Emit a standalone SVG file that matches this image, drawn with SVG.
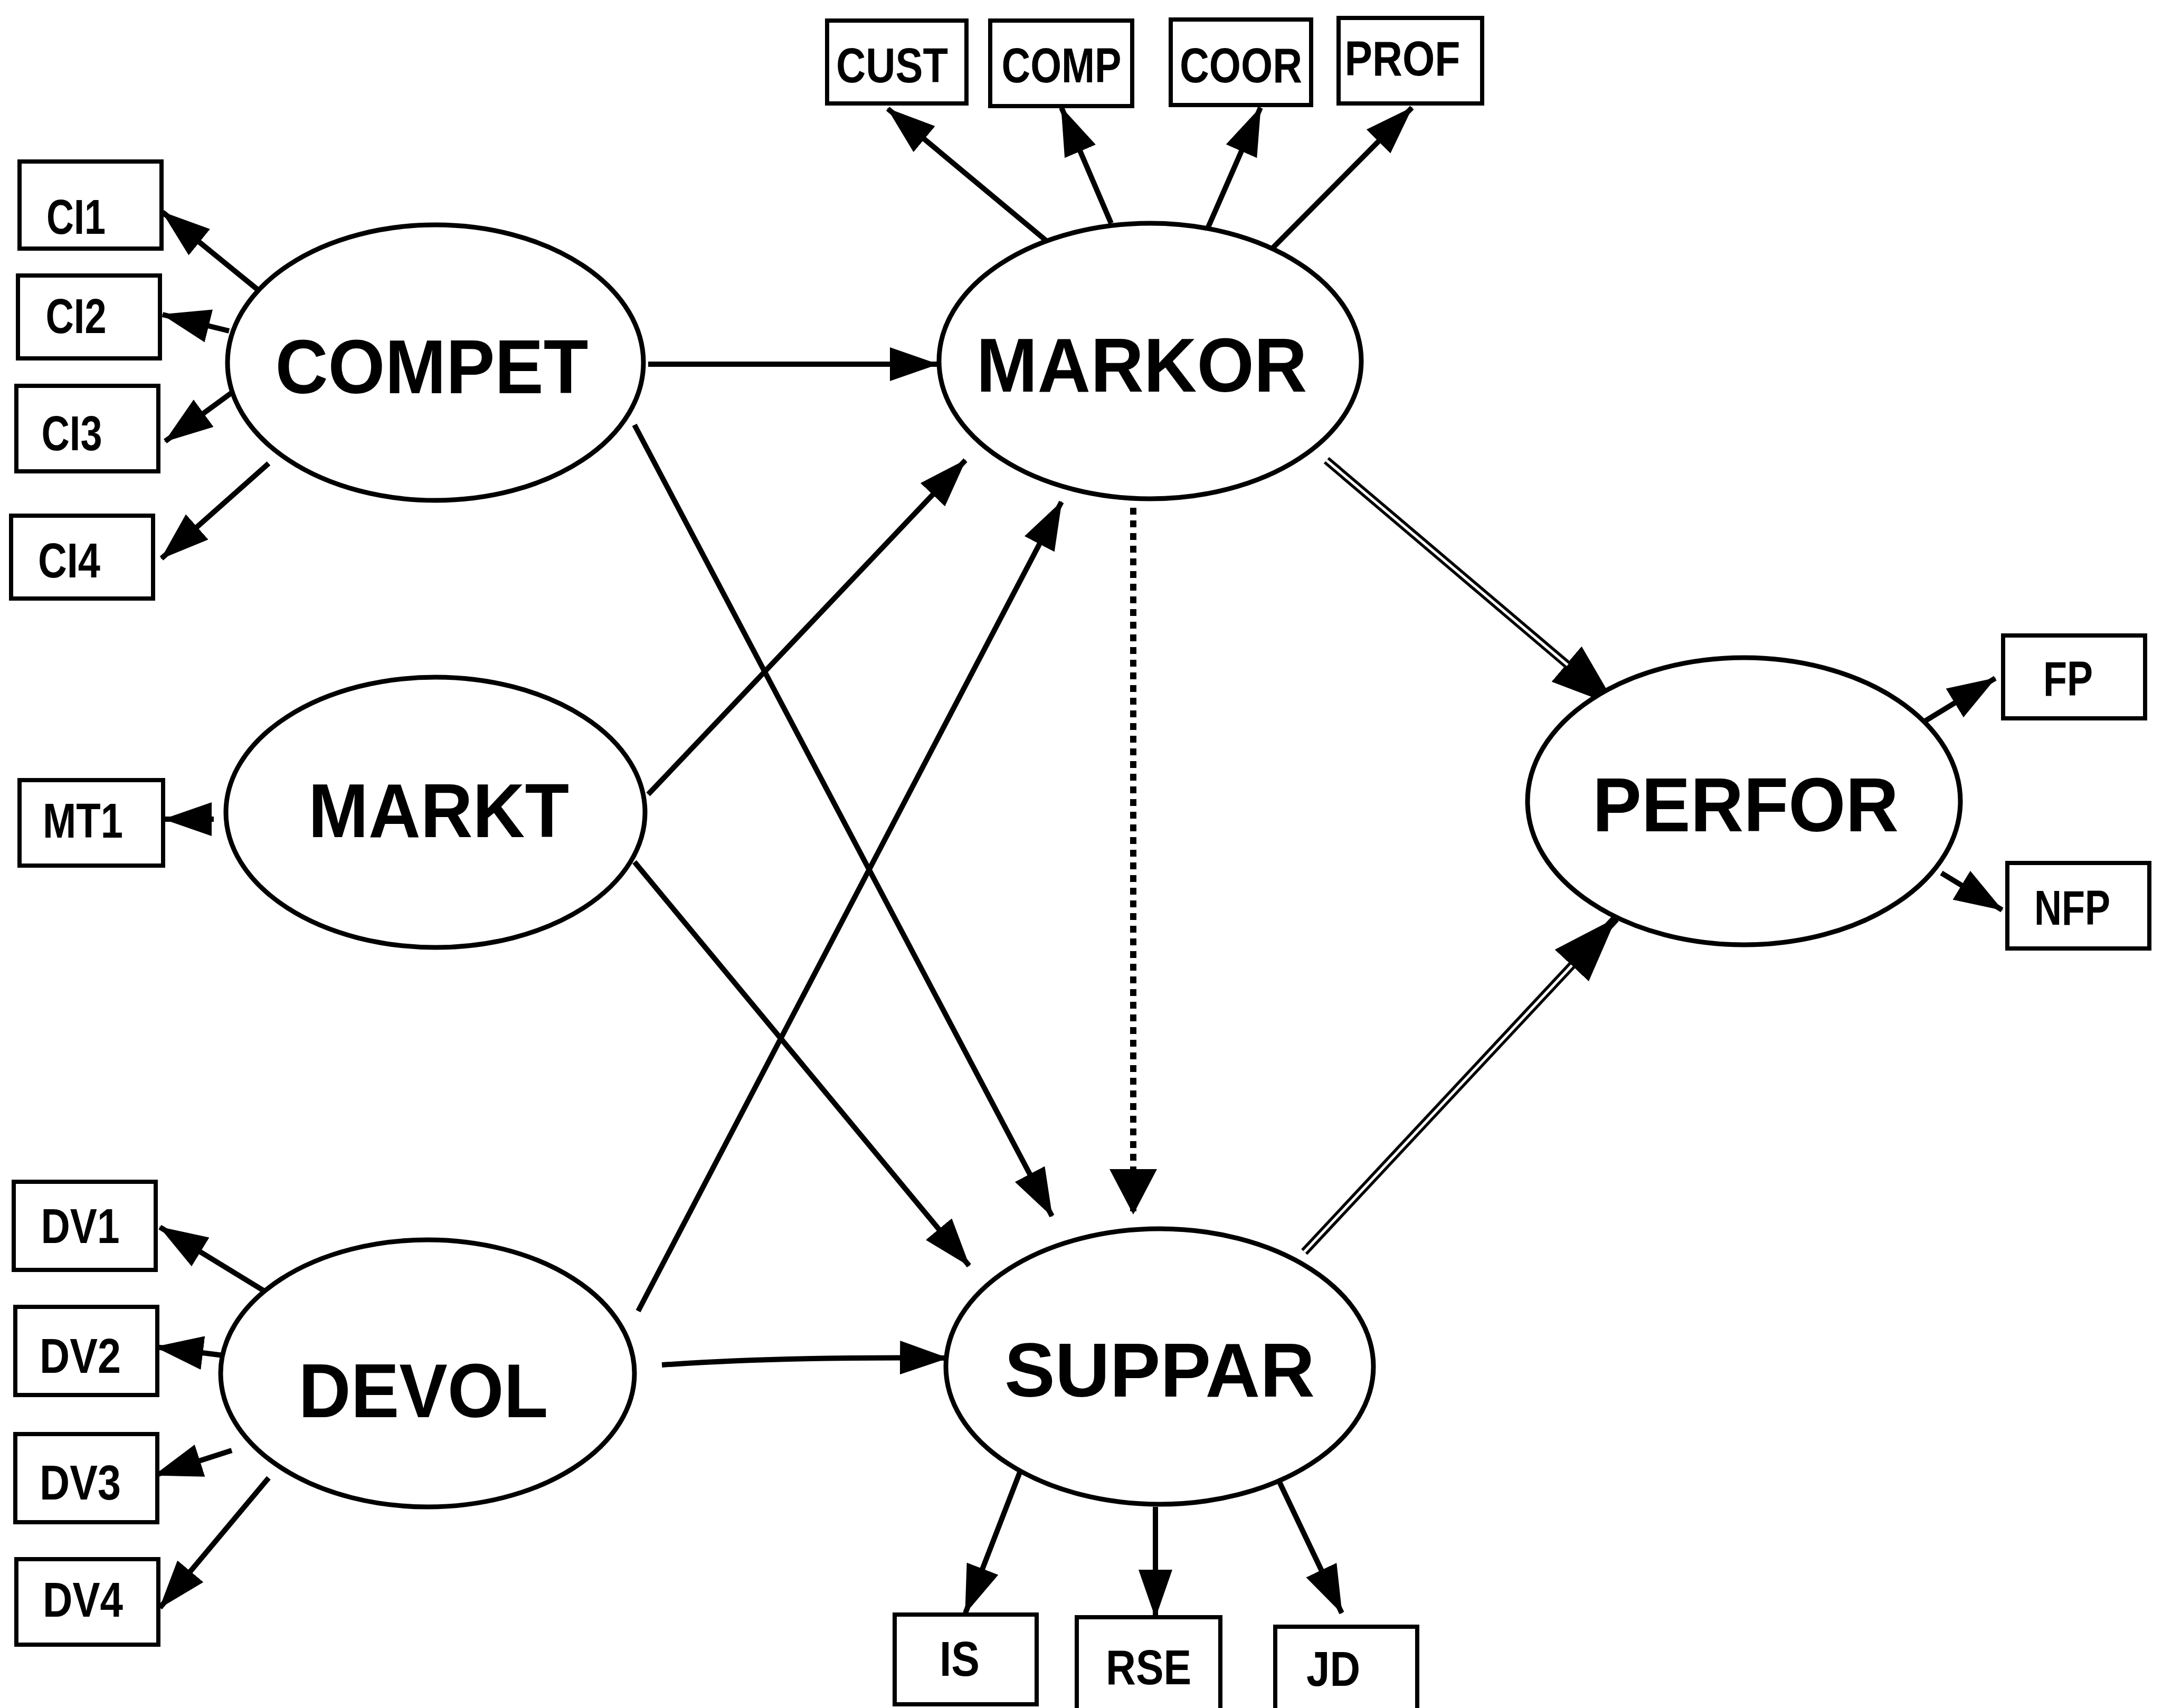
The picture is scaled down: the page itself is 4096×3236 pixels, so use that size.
<svg xmlns="http://www.w3.org/2000/svg" width="4096" height="3236" viewBox="0 0 4096 3236">
  <style>
    .box { fill: #fff; stroke: #000; stroke-width: 8; }
    .lat { fill: #fff; stroke: #000; stroke-width: 9; }
    .small { font-family: "Liberation Sans", Arial, sans-serif; font-weight: bold; font-size: 92px; text-anchor: middle; fill: #000; }
    .big { font-family: "Liberation Sans", Arial, sans-serif; font-weight: bold; font-size: 144px; text-anchor: middle; fill: #000; }
    .edge { fill: none; stroke: #000; stroke-width: 10; marker-end: url(#ah); }
    .dotted { fill: none; stroke: #000; stroke-width: 12; stroke-dasharray: 13 11; marker-end: url(#ahw); }
    .dbl { fill: none; stroke: #000; stroke-width: 16; marker-end: url(#ahb); }
    .dblin { fill: none; stroke: #fff; stroke-width: 5; }
  </style>
  <defs>
    <marker id="ah" markerUnits="userSpaceOnUse" markerWidth="92" markerHeight="64" refX="90" refY="32" orient="auto">
      <path d="M0,0 L92,32 L0,64 z" fill="#000"/>
    </marker>
    <marker id="ahw" markerUnits="userSpaceOnUse" markerWidth="86" markerHeight="90" refX="84" refY="45" orient="auto">
      <path d="M0,0 L86,45 L0,90 z" fill="#000"/>
    </marker>
    <marker id="ahb" markerUnits="userSpaceOnUse" markerWidth="124" markerHeight="88" refX="122" refY="44" orient="auto">
      <path d="M0,0 L124,44 L0,88 z" fill="#000"/>
    </marker>
  </defs>

  <rect width="4096" height="3236" fill="#fff"/>

  <!-- connectors -->
  <g id="connectors">
    <!-- structural paths -->
    <line class="edge" x1="1228" y1="690" x2="1776" y2="690"/>
    <line class="edge" x1="1202" y1="805" x2="1993" y2="2304"/>
    <line class="edge" x1="1228" y1="1505" x2="1829" y2="872"/>
    <line class="edge" x1="1202" y1="1633" x2="1836" y2="2398"/>
    <line class="edge" x1="1209" y1="2484" x2="2011" y2="951"/>
    <path class="edge" d="M1254,2586 Q1489,2570 1795,2573"/>
    <line class="dotted" x1="2147" y1="962" x2="2147" y2="2299"/>
    <line class="dbl" x1="2513" y1="872" x2="3061" y2="1337"/>
    <line class="dblin" x1="2513" y1="872" x2="2970" y2="1260"/>
    <line class="dbl" x1="2471" y1="2372" x2="3061" y2="1740"/>
    <line class="dblin" x1="2471" y1="2372" x2="2978" y2="1829"/>

    <!-- MARKOR indicators -->
    <line class="edge" x1="1993" y1="465" x2="1682" y2="206"/>
    <line class="edge" x1="2105" y1="423" x2="2011" y2="204"/>
    <line class="edge" x1="2283" y1="444" x2="2388" y2="204"/>
    <line class="edge" x1="2403" y1="478" x2="2675" y2="204"/>

    <!-- COMPET indicators -->
    <line class="edge" x1="491" y1="551" x2="308" y2="402"/>
    <line class="edge" x1="434" y1="627" x2="308" y2="596"/>
    <line class="edge" x1="439" y1="744" x2="313" y2="836"/>
    <line class="edge" x1="509" y1="878" x2="306" y2="1058"/>

    <!-- MARKT indicator -->
    <line class="edge" x1="405" y1="1552" x2="311" y2="1552"/>

    <!-- DEVOL indicators -->
    <line class="edge" x1="504" y1="2448" x2="303" y2="2325"/>
    <line class="edge" x1="423" y1="2568" x2="295" y2="2552"/>
    <line class="edge" x1="439" y1="2748" x2="293" y2="2795"/>
    <line class="edge" x1="509" y1="2800" x2="303" y2="3046"/>

    <!-- SUPPAR indicators -->
    <line class="edge" x1="1933" y1="2787" x2="1829" y2="3056"/>
    <line class="edge" x1="2189" y1="2855" x2="2189" y2="3064"/>
    <line class="edge" x1="2424" y1="2808" x2="2542" y2="3056"/>

    <!-- PERFOR indicators -->
    <line class="edge" x1="3639" y1="1371" x2="3780" y2="1285"/>
    <line class="edge" x1="3678" y1="1654" x2="3793" y2="1724"/>
  </g>

  <!-- latent constructs -->
  <g id="COMPET"><ellipse class="lat" cx="825" cy="687" rx="394" ry="261"/><text class="big" x="818" y="745" textLength="593" lengthAdjust="spacingAndGlyphs">COMPET</text></g>
  <g id="MARKT"><ellipse class="lat" cx="825" cy="1539" rx="397" ry="256"/><text class="big" x="831" y="1586" textLength="494" lengthAdjust="spacingAndGlyphs">MARKT</text></g>
  <g id="DEVOL"><ellipse class="lat" cx="810" cy="2602" rx="392" ry="253"/><text class="big" x="802" y="2685" textLength="473" lengthAdjust="spacingAndGlyphs">DEVOL</text></g>
  <g id="MARKOR"><ellipse class="lat" cx="2179" cy="684" rx="400" ry="261"/><text class="big" x="2163" y="742" textLength="627" lengthAdjust="spacingAndGlyphs">MARKOR</text></g>
  <g id="SUPPAR"><ellipse class="lat" cx="2197" cy="2589" rx="405" ry="261"/><text class="big" x="2197" y="2646" textLength="588" lengthAdjust="spacingAndGlyphs">SUPPAR</text></g>
  <g id="PERFOR"><ellipse class="lat" cx="3304" cy="1518" rx="410" ry="272"/><text class="big" x="3307" y="1575" textLength="580" lengthAdjust="spacingAndGlyphs">PERFOR</text></g>

  <!-- MARKOR indicators -->
  <g id="CUST"><rect class="box" x="1567" y="39" width="264" height="157"/><text class="small" x="1690" y="156" textLength="212" lengthAdjust="spacingAndGlyphs">CUST</text></g>
  <g id="COMP"><rect class="box" x="1876" y="39" width="269" height="162"/><text class="small" x="2011" y="156" textLength="227" lengthAdjust="spacingAndGlyphs">COMP</text></g>
  <g id="COOR"><rect class="box" x="2218" y="37" width="266" height="162"/><text class="small" x="2351" y="156" textLength="232" lengthAdjust="spacingAndGlyphs">COOR</text></g>
  <g id="PROF"><rect class="box" x="2536" y="34" width="272" height="162"/><text class="small" x="2657" y="143" textLength="219" lengthAdjust="spacingAndGlyphs">PROF</text></g>

  <!-- COMPET indicators -->
  <g id="CI1"><rect class="box" x="37" y="306" width="269" height="165"/><text class="small" x="144" y="443" textLength="112" lengthAdjust="spacingAndGlyphs">CI1</text></g>
  <g id="CI2"><rect class="box" x="34" y="522" width="269" height="157"/><text class="small" x="144" y="631" textLength="115" lengthAdjust="spacingAndGlyphs">CI2</text></g>
  <g id="CI3"><rect class="box" x="31" y="731" width="269" height="162"/><text class="small" x="136" y="853" textLength="115" lengthAdjust="spacingAndGlyphs">CI3</text></g>
  <g id="CI4"><rect class="box" x="21" y="977" width="269" height="157"/><text class="small" x="131" y="1094" textLength="118" lengthAdjust="spacingAndGlyphs">CI4</text></g>

  <!-- MARKT indicator -->
  <g id="MT1"><rect class="box" x="37" y="1478" width="272" height="162"/><text class="small" x="157" y="1587" textLength="152" lengthAdjust="spacingAndGlyphs">MT1</text></g>

  <!-- DEVOL indicators -->
  <g id="DV1"><rect class="box" x="26" y="2239" width="269" height="167"/><text class="small" x="152" y="2355" textLength="149" lengthAdjust="spacingAndGlyphs">DV1</text></g>
  <g id="DV2"><rect class="box" x="29" y="2476" width="269" height="167"/><text class="small" x="152" y="2601" textLength="154" lengthAdjust="spacingAndGlyphs">DV2</text></g>
  <g id="DV3"><rect class="box" x="29" y="2717" width="269" height="167"/><text class="small" x="152" y="2841" textLength="154" lengthAdjust="spacingAndGlyphs">DV3</text></g>
  <g id="DV4"><rect class="box" x="31" y="2954" width="269" height="162"/><text class="small" x="157" y="3063" textLength="152" lengthAdjust="spacingAndGlyphs">DV4</text></g>

  <!-- SUPPAR indicators -->
  <g id="IS"><rect class="box" x="1695" y="3059" width="269" height="170"/><text class="small" x="1818" y="3175" textLength="76" lengthAdjust="spacingAndGlyphs">IS</text></g>
  <g id="RSE"><rect class="box" x="2040" y="3064" width="272" height="180"/><text class="small" x="2176" y="3191" textLength="162" lengthAdjust="spacingAndGlyphs">RSE</text></g>
  <g id="JD"><rect class="box" x="2416" y="3082" width="269" height="180"/><text class="small" x="2526" y="3194" textLength="102" lengthAdjust="spacingAndGlyphs">JD</text></g>

  <!-- PERFOR indicators -->
  <g id="FP"><rect class="box" x="3795" y="1204" width="269" height="157"/><text class="small" x="3918" y="1318" textLength="94" lengthAdjust="spacingAndGlyphs">FP</text></g>
  <g id="NFP"><rect class="box" x="3803" y="1635" width="269" height="162"/><text class="small" x="3926" y="1752" textLength="144" lengthAdjust="spacingAndGlyphs">NFP</text></g>
</svg>
